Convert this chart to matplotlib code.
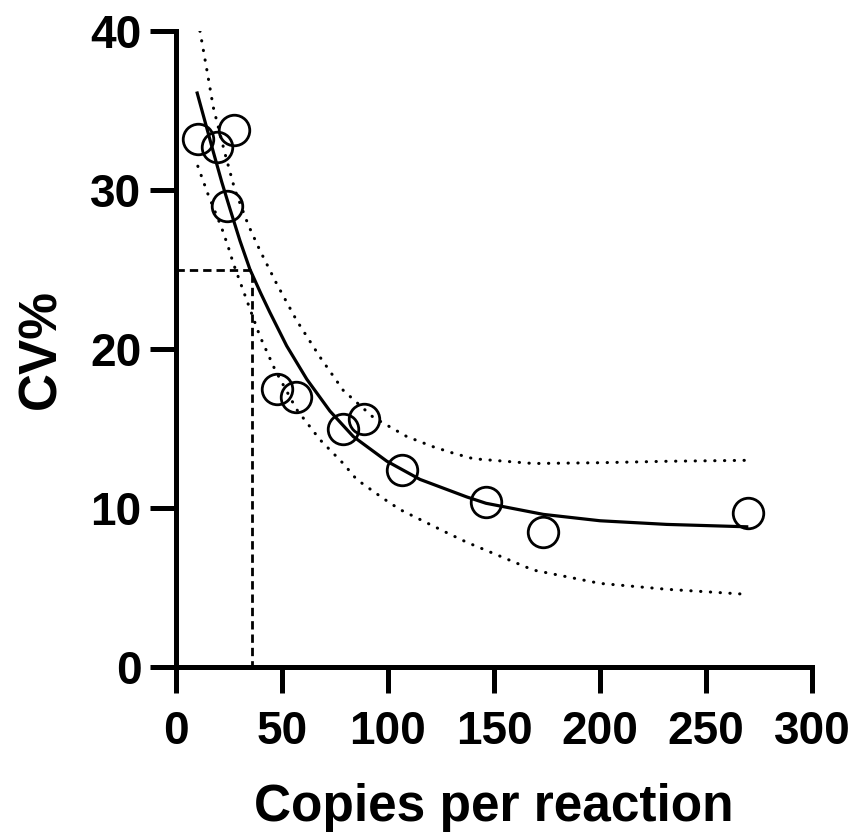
import numpy as np
import matplotlib
matplotlib.use("Agg")
from matplotlib import pyplot as plt

plt.rcParams['font.family'] = ['Liberation Sans', 'DejaVu Sans']
plt.rcParams['font.weight'] = 'bold'

# measured points (copies per reaction, CV%)
copies = [10.2, 19.2, 27.4, 24.2, 47.5, 56.5, 78.6, 88.8, 106.5, 146.2, 173.3, 270.0]
cv = [33.2, 32.7, 33.8, 29.0, 17.5, 17.0, 15.0, 15.6, 12.4, 10.4, 8.5, 9.7]

# fitted curve
fit_x = [10.0, 13.7, 17.6, 21.6, 25.5, 30.2, 34.9, 40.0, 44.3, 52.2, 61.7, 72.6,
         83.6, 99.4, 115.1, 137.1, 146.2, 173.3, 200.0, 231.5, 269.2]
fit_y = [36.1, 34.3, 32.4, 30.5, 28.8, 26.8, 25.0, 23.5, 22.3, 20.2, 18.1, 16.1,
         14.5, 12.95, 11.8, 10.7, 10.3, 9.6, 9.2, 8.97, 8.82]

# upper / lower dotted bands
up_x = [11.3, 14.5, 17.6, 23.1, 27.8, 34.1, 39.6, 47.5, 56.9, 67.9, 78.9, 93.1,
        108.8, 121.4, 130.8, 140.3, 168.5, 200.0, 231.5, 269.2]
up_y = [40.0, 37.6, 35.2, 32.3, 30.0, 27.8, 26.2, 24.1, 21.8, 19.5, 17.4, 15.7,
        14.5, 13.85, 13.45, 13.1, 12.8, 12.85, 12.94, 13.0]
lo_x = [10.3, 15.2, 21.6, 24.7, 27.0, 33.3, 39.6, 46.7, 56.9, 67.9, 78.9, 85.2,
        97.8, 105.7, 127.7, 137.1, 168.5, 200.0, 231.5, 266.0]
lo_y = [31.5, 29.7, 27.6, 26.4, 25.4, 23.1, 20.8, 18.7, 16.2, 14.3, 12.8, 11.8,
        10.6, 9.9, 8.45, 7.85, 6.1, 5.26, 4.89, 4.6]

# CV 25% cut-off
cut_cv = 25
cut_x = 35.7

fig = plt.figure(figsize=(8.56, 8.34), dpi=100)
ax = fig.add_axes([0.2056, 0.2002, 0.743, 0.7626])

dots = (0, (0.1, 3.1))
ax.plot(up_x, up_y, color='black', lw=2.2, linestyle=dots, dash_capstyle='round')
ax.plot(lo_x, lo_y, color='black', lw=2.2, linestyle=dots, dash_capstyle='round')
ax.plot([0, cut_x, cut_x], [cut_cv, cut_cv, 0], color='black', lw=2.0, linestyle=(0, (3.0, 1.8)))
ax.plot(fit_x, fit_y, color='black', lw=2.3)
ax.plot(copies, cv, 'o', ms=22, mfc='none', mec='black', mew=2.0, clip_on=False)

ax.set_xlim(0, 300)
ax.set_ylim(0, 40)
ax.set_xticks([0, 50, 100, 150, 200, 250, 300])
ax.set_yticks([0, 10, 20, 30, 40])

for s in ['top', 'right']:
    ax.spines[s].set_visible(False)
for s in ['left', 'bottom']:
    ax.spines[s].set_linewidth(3.6)
ax.tick_params(width=3.6, length=19, labelsize=33)
ax.tick_params(axis='x', pad=12)
ax.tick_params(axis='y', pad=6)

ax.set_xlabel('Copies per reaction', fontsize=37, fontweight='bold', labelpad=21)
ax.set_ylabel('CV%', fontsize=38, fontweight='bold', labelpad=17)

fig.savefig('out.png', dpi=100)
